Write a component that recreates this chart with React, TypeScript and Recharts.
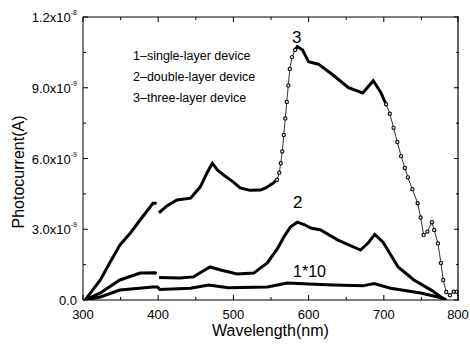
import { LineChart, Line, XAxis, YAxis } from 'recharts'

// wavelength (nm) / photocurrent (x1e-9 A)
// curve 3: three-layer device, split where the original trace changes style
const wl3a = [303, 310, 323, 336, 349, 363, 379, 393, 398]
const v3a = [0, 0.3, 0.85, 1.6, 2.33, 2.84, 3.52, 4.1, 4.1]
const wl3b = [401, 412, 425, 443, 456, 465, 472, 479, 487, 500, 509, 522, 536, 543, 553, 558]
const v3b = [3.7, 4.0, 4.24, 4.32, 4.8, 5.4, 5.8, 5.5, 5.3, 5.0, 4.75, 4.65, 4.66, 4.75, 4.96, 5.1]
const wl3c = [558, 561, 563, 565, 567, 569, 571, 573, 575, 578, 582]
const v3c = [5.1, 5.4, 5.8, 6.3, 7.0, 7.7, 8.4, 9.1, 9.8, 10.3, 10.6]
const wl3d = [582, 585, 592, 600, 613, 632, 653, 672, 686, 696, 703]
const v3d = [10.6, 10.75, 10.6, 10.1, 10.0, 9.55, 9.0, 8.78, 9.3, 8.8, 8.3]
const wl3e = [703, 708, 713, 718, 723, 728, 732, 738, 745, 749, 753, 758, 764, 767, 772, 776, 779, 783, 788, 793, 797, 800]
const v3e = [8.3, 7.9, 7.3, 6.7, 6.1, 5.6, 5.2, 4.7, 4.1, 3.5, 2.76, 2.9, 3.3, 2.97, 2.4, 1.57, 0.85, 0.34, 0.2, 0.35, 0.35, 0.25]

// curve 2: double-layer device
const wl2a = [303, 323, 349, 376, 396, 398]
const v2a = [0, 0.3, 0.85, 1.14, 1.15, 1.12]
const wl2b = [401, 429, 447, 458, 469, 483, 505, 527, 545, 559, 567, 576, 585, 594, 603, 616, 639, 669, 680, 688, 699, 719, 740, 763, 776, 783]
const v2b = [0.95, 0.93, 0.98, 1.2, 1.4, 1.27, 1.1, 1.14, 1.57, 2.2, 2.67, 3.1, 3.3, 3.2, 3.05, 2.97, 2.54, 2.12, 2.45, 2.78, 2.45, 1.4, 0.85, 0.42, 0.13, 0]

// curve 1: single-layer device (x10)
const wl1 = [303, 323, 349, 393, 399, 402, 443, 467, 493, 545, 572, 600, 633, 672, 687, 709, 749, 772, 783]
const v1 = [0, 0.13, 0.42, 0.55, 0.55, 0.45, 0.5, 0.64, 0.52, 0.55, 0.72, 0.68, 0.64, 0.6, 0.7, 0.5, 0.3, 0.13, 0]

const xTicks = [300, 350, 400, 450, 500, 550, 600, 650, 700, 750, 800]
const yTicks = [0, 1.5, 3, 4.5, 6, 7.5, 9, 10.5, 12]
const yLabels: Record<number, [string, string]> = {
    0: ['0.0', ''],
    3: ['3.0x10', '-9'],
    6: ['6.0x10', '-9'],
    9: ['9.0x10', '-9'],
    12: ['1.2x10', '-8'],
}
const legendLines = ['1\u2013single-layer device', '2\u2013double-layer device', '3\u2013three-layer device']

const zip = (w: number[], v: number[]) => w.map((wl, i) => ({ wl, v: v[i] }))

const font = '"Liberation Sans", Arial, sans-serif'

// plot box size in px (470 - 8 - 75 - 11 wide, 344 - 17 - 30 - 14 high)
const PW = 376
const PH = 283

// bottom ticks also draw the mirrored top ticks, and the last one the right edge of the box
const BottomTick = ({ x, y, payload }: any) => {
    const major = payload.value % 100 === 0
    const len = major ? 5 : 3
    return (
        <g>
            <line x1={x} x2={x} y1={y} y2={y - len} stroke='#000' />
            <line x1={x} x2={x} y1={y - PH} y2={y - PH + len} stroke='#000' />
            {payload.value === 800 && <line x1={x} x2={x} y1={y} y2={y - PH} stroke='#000' strokeWidth={1.2} />}
            {major && (
                <text x={x} y={y + 19} textAnchor='middle' fontSize={13} fontFamily={font} fill='#000'>
                    {payload.value}
                </text>
            )}
        </g>
    )
}

// left ticks also draw the mirrored right ticks, and the top one the top edge of the box
const LeftTick = ({ x, y, payload }: any) => {
    const lab = yLabels[payload.value]
    const len = lab ? 5 : 3
    return (
        <g>
            <line x1={x} x2={x + len} y1={y} y2={y} stroke='#000' />
            <line x1={x + PW} x2={x + PW - len} y1={y} y2={y} stroke='#000' />
            {payload.value === 12 && <line x1={x} x2={x + PW} y1={y} y2={y} stroke='#000' strokeWidth={1.2} />}
            {lab && (
                <text x={x - 6} y={y + 5} textAnchor='end' fontSize={13} fontFamily={font} fill='#000'>
                    {lab[0]}
                    {lab[1] && (
                        <tspan fontSize={7} dy={-7}>
                            {lab[1]}
                        </tspan>
                    )}
                </text>
            )}
        </g>
    )
}

const solid = { stroke: '#000', strokeWidth: 3, dot: false, isAnimationActive: false, type: 'linear' as const }
const dotted = {
    stroke: '#333',
    strokeWidth: 1,
    dot: { r: 1.6, stroke: '#111', strokeWidth: 1.2, fill: '#fff' },
    isAnimationActive: false,
    type: 'linear' as const,
}

const textStyle = { position: 'absolute' as const, fontFamily: font, color: '#000', whiteSpace: 'nowrap' as const, lineHeight: 1 }

export default function App() {
    return (
        <div style={{ position: 'absolute', left: 0, top: 0, width: 470, height: 344, background: '#fff' }}>
            <LineChart width={470} height={344} margin={{ top: 17, right: 11, bottom: 14, left: 8 }}>
                <XAxis
                    dataKey='wl'
                    type='number'
                    domain={[300, 800]}
                    ticks={xTicks}
                    allowDataOverflow
                    height={30}
                    tickSize={0}
                    tickMargin={0}
                    tickLine={false}
                    tick={<BottomTick />}
                    stroke='#000'
                />
                <YAxis
                    type='number'
                    domain={[0, 12]}
                    ticks={yTicks}
                    allowDataOverflow
                    width={75}
                    tickSize={0}
                    tickMargin={0}
                    tickLine={false}
                    tick={<LeftTick />}
                    stroke='#000'
                />
                <Line data={zip(wl1, v1)} dataKey='v' {...solid} />
                <Line data={zip(wl2a, v2a)} dataKey='v' {...solid} />
                <Line data={zip(wl2b, v2b)} dataKey='v' {...solid} />
                <Line data={zip(wl3a, v3a)} dataKey='v' {...solid} />
                <Line data={zip(wl3b, v3b)} dataKey='v' {...solid} />
                <Line data={zip(wl3c, v3c)} dataKey='v' {...dotted} />
                <Line data={zip(wl3d, v3d)} dataKey='v' {...solid} />
                <Line data={zip(wl3e, v3e)} dataKey='v' {...dotted} />
            </LineChart>

            {legendLines.map((t, i) => (
                <div key={t} style={{ ...textStyle, left: 133, top: 50 + i * 21, fontSize: 12.5 }}>
                    {t}
                </div>
            ))}
            <div style={{ ...textStyle, left: 292, top: 29, fontSize: 17 }}>3</div>
            <div style={{ ...textStyle, left: 293, top: 194, fontSize: 17 }}>2</div>
            <div style={{ ...textStyle, left: 293, top: 264, fontSize: 16 }}>1*10</div>
            <div style={{ ...textStyle, left: 212, top: 323, fontSize: 16 }}>Wavelength(nm)</div>
            <div
                style={{
                    ...textStyle,
                    left: 19,
                    top: 172,
                    fontSize: 16,
                    transform: 'translate(-50%, -50%) rotate(-90deg)',
                }}
            >
                Photocurrent(A)
            </div>
        </div>
    )
}
